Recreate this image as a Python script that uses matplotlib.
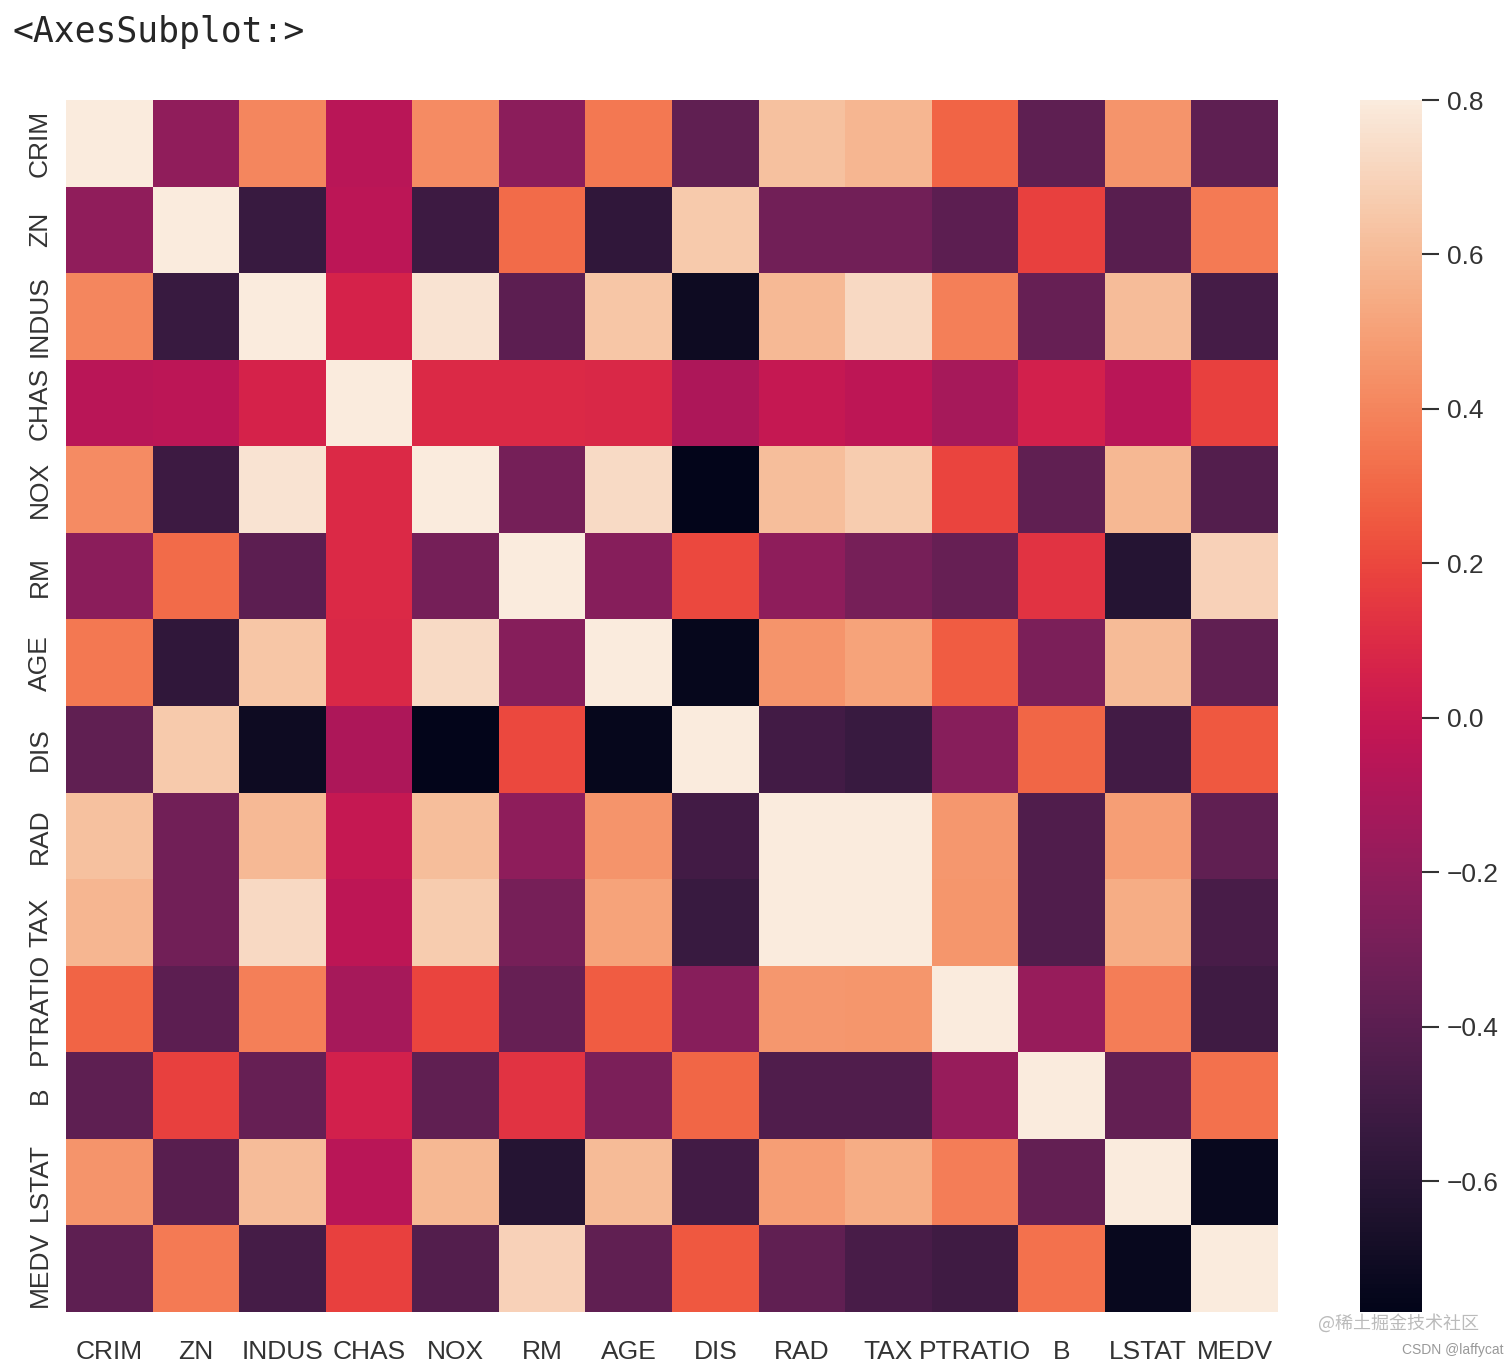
import matplotlib
matplotlib.use("Agg")
import matplotlib.pyplot as plt
import seaborn as sns
import numpy as np

cols = ["CRIM","ZN","INDUS","CHAS","NOX","RM","AGE","DIS","RAD","TAX","PTRATIO","B","LSTAT","MEDV"]
r_crim = [1,-0.200,0.407,-0.056,0.421,-0.219,0.353,-0.380,0.626,0.583,0.290,-0.385,0.456,-0.388]
r_zn = [-0.200,1,-0.534,-0.043,-0.517,0.312,-0.570,0.664,-0.312,-0.315,-0.392,0.176,-0.413,0.360]
r_indus = [0.407,-0.534,1,0.063,0.764,-0.392,0.645,-0.708,0.595,0.721,0.383,-0.357,0.604,-0.484]
r_chas = [-0.056,-0.043,0.063,1,0.091,0.091,0.087,-0.099,-0.007,-0.036,-0.122,0.049,-0.054,0.175]
r_nox = [0.421,-0.517,0.764,0.091,1,-0.302,0.731,-0.769,0.611,0.668,0.189,-0.380,0.591,-0.427]
r_rm = [-0.219,0.312,-0.392,0.091,-0.302,1,-0.240,0.205,-0.210,-0.292,-0.356,0.128,-0.614,0.695]
r_age = [0.353,-0.570,0.645,0.087,0.731,-0.240,1,-0.748,0.456,0.506,0.262,-0.274,0.602,-0.377]
r_dis = [-0.380,0.664,-0.708,-0.099,-0.769,0.205,-0.748,1,-0.495,-0.534,-0.232,0.292,-0.497,0.250]
r_rad = [0.626,-0.312,0.595,-0.007,0.611,-0.210,0.456,-0.495,1,0.910,0.465,-0.444,0.489,-0.382]
r_tax = [0.583,-0.315,0.721,-0.036,0.668,-0.292,0.506,-0.534,0.910,1,0.461,-0.442,0.544,-0.469]
r_ptratio = [0.290,-0.392,0.383,-0.122,0.189,-0.356,0.262,-0.232,0.465,0.461,1,-0.177,0.374,-0.508]
r_b = [-0.385,0.176,-0.357,0.049,-0.380,0.128,-0.274,0.292,-0.444,-0.442,-0.177,1,-0.366,0.333]
r_lstat = [0.456,-0.413,0.604,-0.054,0.591,-0.614,0.602,-0.497,0.489,0.544,0.374,-0.366,1,-0.738]
r_medv = [-0.388,0.360,-0.484,0.175,-0.427,0.695,-0.377,0.250,-0.382,-0.469,-0.508,0.333,-0.738,1]
corr = np.array([r_crim,r_zn,r_indus,r_chas,r_nox,r_rm,r_age,r_dis,r_rad,r_tax,r_ptratio,r_b,r_lstat,r_medv])

sns.set_style("white")
plt.rcParams['font.family'] = ['Liberation Sans', 'DejaVu Sans']
fig = plt.figure(figsize=(15.12, 13.67), dpi=100)
W, H = 1512, 1367
ax = fig.add_axes([66/W, 1-1312/H, 1212/W, 1212/H])
cax = fig.add_axes([1360/W, 1-1312/H, 62/W, 1212/H])
sns.heatmap(corr, vmax=0.8, square=False, ax=ax, cbar_ax=cax,
            xticklabels=cols, yticklabels=cols)
ax.tick_params(axis='both', labelsize=19, colors='#333333', length=0)
ax.tick_params(axis='x', pad=20)
ax.tick_params(axis='y', pad=10)
ax.set_yticklabels(cols, rotation=90, va='center')
ax.set_xticklabels(cols, rotation=0)
cax.tick_params(labelsize=19, colors='#333333', length=12, width=1.5, pad=6)
cax.yaxis.set_ticks([-0.6,-0.4,-0.2,0.0,0.2,0.4,0.6,0.8])
cax.set_yticklabels(['\u22120.6','\u22120.4','\u22120.2','0.0','0.2','0.4','0.6','0.8'])
for s in cax.spines.values():
    s.set_visible(False)
fig.text(12/W, 1-32/H, "<AxesSubplot:>", family='DejaVu Sans Mono', fontsize=25, va='center', ha='left')
fig.text(1318/W, 1-1323/H, "@稀土掘金技术社区", family=['Noto Sans CJK SC','DejaVu Sans'], fontsize=13, color='#bbbbbb', va='center')
fig.text(1402/W, 1-1350/H, "CSDN @laffycat", fontsize=10, color='#999999', va='center')
fig.savefig("out.png", dpi=100)
